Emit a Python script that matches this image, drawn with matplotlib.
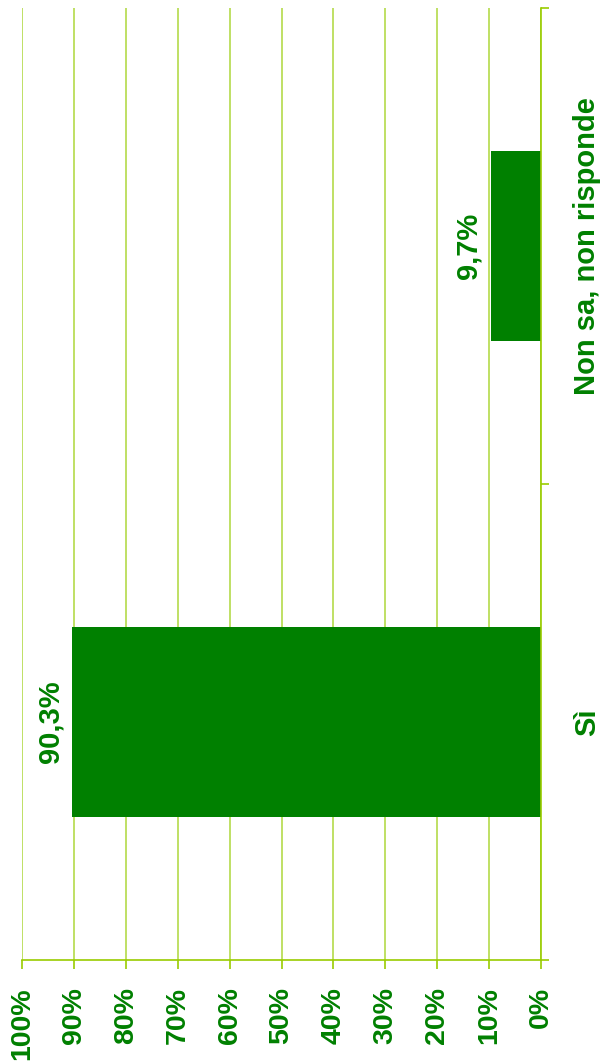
#!/usr/bin/env python

import matplotlib
matplotlib.use('Agg')
import matplotlib.pyplot as plt

categories = ['Sì', 'Non sa, non risponde']
values = [90.3, 9.7]
value_labels = ['90,3%', '9,7%']
tick_values = [0, 10, 20, 30, 40, 50, 60, 70, 80, 90, 100]
tick_labels = ['0%', '10%', '20%', '30%', '40%', '50%', '60%', '70%', '80%', '90%', '100%']

GREEN = '#008000'
LINE = '#99CC00'
GRID = '#B4DA4A'


def main():
    plt.rcParams['font.family'] = ['Liberation Sans', 'DejaVu Sans']
    fig = plt.figure(figsize=(6.01, 10.63), dpi=100)
    ax = fig.add_axes([22/601, 1-960/1063, (541-22)/601, (960-8)/1063])

    pos = list(range(len(categories)))
    ax.barh(pos, values, height=0.4, color=GREEN, zorder=2)

    # value labels just past the bar end
    for p, v, lab in zip(pos, values, value_labels):
        ax.annotate(lab, (v, p), xytext=(-22, 0), textcoords='offset pixels',
                    rotation=90, ha='center', va='center', color=GREEN,
                    fontsize=21, fontweight='bold')

    # value axis: 0% on the right, 100% on the left
    ax.set_xlim(100, 0)
    ax.set_xticks(tick_values)
    ax.set_xticklabels(tick_labels, rotation=90, color=GREEN, fontsize=20.5, fontweight='bold')
    ax.tick_params(axis='x', length=6.5, width=1.2, color=LINE, pad=13)
    ax.grid(axis='x', color=GRID, linewidth=1.2, zorder=0)
    ax.set_axisbelow(True)

    # category axis on the right
    ax.set_ylim(-0.5, len(categories) - 0.5)
    ax.yaxis.tick_right()
    ax.set_yticks(pos)
    ax.set_yticklabels(categories, rotation=90, va='center', color=GREEN,
                       fontsize=21, fontweight='bold')
    ax.set_yticks([p - 0.5 for p in pos] + [len(categories) - 0.5], minor=True)
    ax.tick_params(axis='y', which='major', length=0, pad=23)
    ax.tick_params(axis='y', which='minor', length=6, width=1.2, color=LINE)

    for s in ['top', 'left']:
        ax.spines[s].set_visible(False)
    for s in ['right', 'bottom']:
        ax.spines[s].set_color(LINE)
        ax.spines[s].set_linewidth(1.2)

    fig.savefig('out.png', dpi=100)


if __name__ == '__main__':
    main()
